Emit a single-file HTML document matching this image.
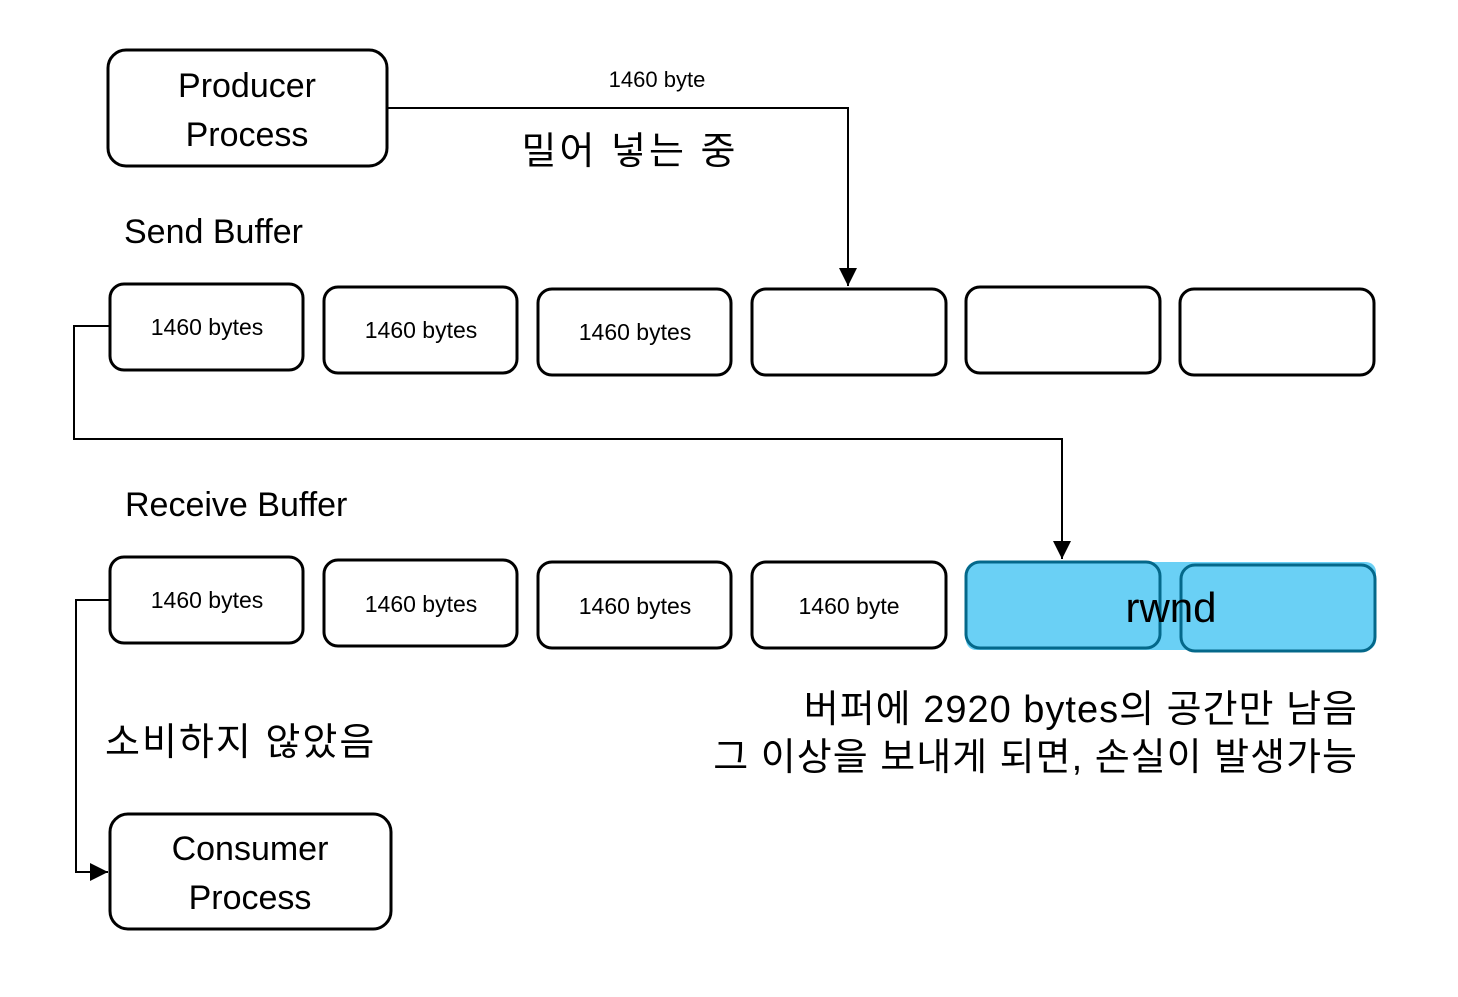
<!DOCTYPE html>
<html><head><meta charset="utf-8"><style>
html,body{margin:0;padding:0;background:#fff;}
text{font-family:"Liberation Sans","Noto Sans CJK KR",sans-serif;fill:#000;}
</style></head><body>
<svg width="1458" height="992" viewBox="0 0 1458 992" xmlns="http://www.w3.org/2000/svg">
<defs><marker id="a" markerWidth="10" markerHeight="10" refX="9" refY="5" orient="auto" markerUnits="userSpaceOnUse"><path d="M0,0 L10,5 L0,10 z" fill="#000"/></marker>
<marker id="b" viewBox="0 0 10 10" markerWidth="18" markerHeight="18" refX="10" refY="5" orient="auto" markerUnits="userSpaceOnUse"><path d="M0,0 L10,5 L0,10 z" fill="#000"/></marker></defs>
<g fill="#fff" stroke="#000" stroke-width="3">
<rect x="108" y="50" width="279" height="116" rx="18"/>
<rect x="110" y="814" width="281" height="115" rx="18"/>
<rect x="110" y="284" width="193" height="86" rx="14"/>
<rect x="324" y="287" width="193" height="86" rx="14"/>
<rect x="538" y="289" width="193" height="86" rx="14"/>
<rect x="752" y="289" width="194" height="86" rx="14"/>
<rect x="966" y="287" width="194" height="86" rx="14"/>
<rect x="1180" y="289" width="194" height="86" rx="14"/>
<rect x="110" y="557" width="193" height="86" rx="14"/>
<rect x="324" y="560" width="193" height="86" rx="14"/>
<rect x="538" y="562" width="193" height="86" rx="14"/>
<rect x="752" y="562" width="194" height="86" rx="14"/>
</g>
<rect x="966" y="562" width="410" height="88" rx="10" fill="#6ad0f5"/>
<g fill="none" stroke="#04688a" stroke-width="3">
<rect x="966" y="562" width="194" height="86" rx="14"/>
<rect x="1181" y="565" width="194" height="86" rx="14"/>
</g>
<g fill="none" stroke="#000" stroke-width="2">
<polyline points="387,108 848,108 848,286" marker-end="url(#b)"/>
<polyline points="110,326 74,326 74,439 1062,439 1062,559" marker-end="url(#b)"/>
<polyline points="110,600 76,600 76,872 108,872" marker-end="url(#b)"/>
</g>
<g font-size="34" text-anchor="middle">
<text x="247" y="97">Producer</text><text x="247" y="146">Process</text>
<text x="250" y="860">Consumer</text><text x="250" y="909">Process</text>
</g>
<text x="124" y="243" font-size="34">Send Buffer</text>
<text x="125" y="516" font-size="34">Receive Buffer</text>
<text x="657" y="87" font-size="22" text-anchor="middle">1460 byte</text>
<text x="630" y="164" font-size="38" text-anchor="middle" letter-spacing="3">밀어 넣는 중</text>
<g font-size="23" text-anchor="middle">
<text x="207" y="335">1460 bytes</text>
<text x="421" y="338">1460 bytes</text>
<text x="635" y="340">1460 bytes</text>
<text x="207" y="608">1460 bytes</text>
<text x="421" y="612">1460 bytes</text>
<text x="635" y="614">1460 bytes</text>
<text x="849" y="614">1460 byte</text>
</g>
<text x="1171" y="622" font-size="42" text-anchor="middle">rwnd</text>
<text x="105" y="755" font-size="38" letter-spacing="2">소비하지 않았음</text>
<text x="1358" y="722" font-size="38" text-anchor="end" letter-spacing="1">버퍼에 2920 bytes의 공간만 남음</text>
<text x="1358" y="770" font-size="38" text-anchor="end" letter-spacing="1">그 이상을 보내게 되면, 손실이 발생가능</text>
</svg>
</body></html>
